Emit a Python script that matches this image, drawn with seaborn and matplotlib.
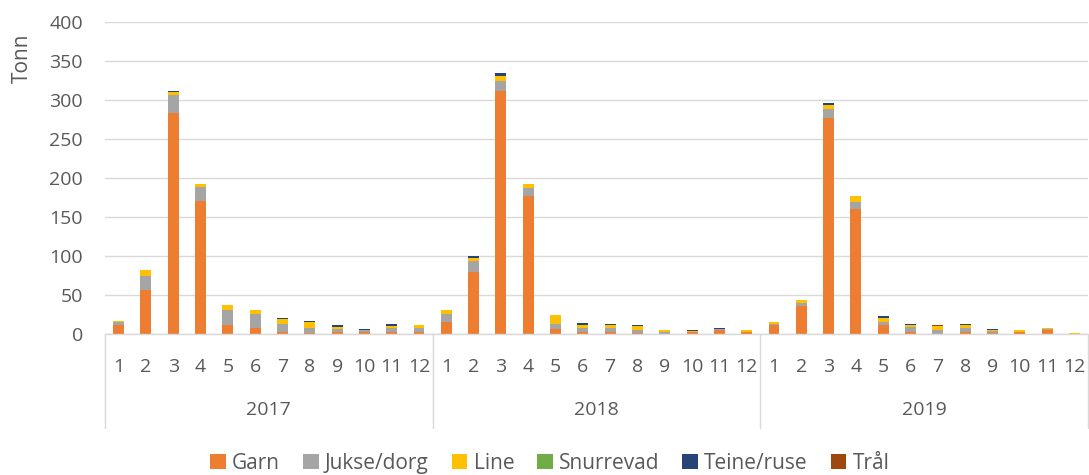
import numpy as np
import pandas as pd
import matplotlib
matplotlib.use("Agg")
import matplotlib.pyplot as plt
import matplotlib.transforms as mtransforms
from matplotlib.patches import Patch
import seaborn as sns

# -------------------------------
# Data (tonn per month)
# -------------------------------
years = ["2017", "2018", "2019"]
months = list(range(1, 13))
gears = ["Garn", "Jukse/dorg", "Line", "Snurrevad", "Teine/ruse", "Trål"]
colors = ["#ED7D31", "#A5A5A5", "#FFC000", "#70AD47", "#264478", "#9E480E"]

garn = [11, 57, 283, 171, 11.5, 8, 2, 1, 2, 2, 2, 2,
        16, 79, 311, 177.5, 6, 2, 2, 1, 0.5, 3, 5, 3,
        11, 36, 277, 160, 11.5, 2, 0.5, 2, 1.5, 3, 5, 0]
jukse = [4, 18, 24, 18, 19.5, 17.5, 11, 7, 4, 2.5, 6, 6,
         10, 14, 14, 9.5, 7, 6, 6, 4, 2.5, 0, 1.5, 0,
         2, 4, 11, 9, 4.5, 6.5, 4.5, 6, 2, 0, 1.5, 0]
line = [1.5, 7, 3, 3.5, 6.5, 5, 6, 7, 3.5, 0, 2.5, 3,
        5, 5, 6, 5.5, 12, 3.5, 3, 5, 2, 0.5, 0, 2,
        3, 4, 6, 8.5, 5, 2.5, 5, 3, 1.5, 2, 1.3, 1.7]
snurrevad = [0] * 36
teine = [0, 0, 2, 0, 0, 0, 2, 1.5, 2.5, 2, 2.5, 0,
         0, 2.5, 3, 0, 0, 2, 2, 2, 0, 1.5, 1.5, 0,
         0, 0, 2, 0, 2.5, 2, 0, 2, 1.5, 0, 0, 0]
tral = [0] * 36
tral[30] = 2
tral[26] = 0.5

series = [garn, jukse, line, snurrevad, teine, tral]

# long table
rows = []
for y in years:
    for m in months:
        rows.append({"key": f"{y}-{m}", "year": y, "month": m})
df = pd.DataFrame(rows)
for g, vals in zip(gears, series):
    df[g] = vals
order = list(df["key"])

# -------------------------------
# Style
# -------------------------------
sns.set_theme(style="white")
plt.rcParams["font.family"] = ["Open Sans", "DejaVu Sans"]
txt = "#595959"
fs = 14

fig = plt.figure(figsize=(10.89, 4.75), dpi=100)
ax = fig.add_axes([105 / 1089, 141 / 475, 983 / 1089, 312 / 475])

bottom = np.zeros(len(df))
for g, c in zip(gears, colors):
    sns.barplot(data=df, x="key", y=g, order=order, color=c, width=0.4,
                bottom=bottom, linewidth=0, ax=ax, saturation=1)
    bottom = bottom + df[g].values

ax.set_xlim(-0.5, len(df) - 0.5)
ax.set_ylim(0, 400)
ax.set_yticks(range(0, 401, 50))
ax.yaxis.grid(True, color="#D9D9D9", linewidth=1)
ax.set_axisbelow(True)
for s in ["top", "right", "left"]:
    ax.spines[s].set_visible(False)
ax.spines["bottom"].set_color("#D9D9D9")
ax.spines["bottom"].set_linewidth(1)

ax.set_xticks(range(len(df)))
ax.set_xticklabels([str(m) for m in df["month"]], fontsize=fs, color=txt)
ax.tick_params(axis="x", length=0, pad=17)
ax.tick_params(axis="y", length=0, pad=16, labelsize=fs, labelcolor=txt)
ax.set_xlabel("")
ax.set_ylabel("Tonn", fontsize=fs + 1, color=txt)
ax.yaxis.set_label_coords(-0.073, 0.885)

# multi-level category axis: year separators and labels
trans = mtransforms.blended_transform_factory(ax.transData, ax.transAxes)
for b in [-0.5, 11.5, 23.5, 35.5]:
    ax.plot([b, b], [0, -0.30], transform=trans, color="#D9D9D9", lw=1, clip_on=False)
for yi, y in enumerate(years):
    ax.text(yi * 12 + 5.5, -0.245, y, transform=trans, ha="center", va="center",
            fontsize=fs, color=txt)

handles = [Patch(facecolor=c, edgecolor="none", label=g) for g, c in zip(gears, colors)]
fig.legend(handles=handles, loc="center", bbox_to_anchor=(0.505, 0.025), ncol=6,
           frameon=False, fontsize=15, handlelength=0.75, handleheight=0.75,
           handletextpad=0.3, columnspacing=1.1, labelcolor=txt)

plt.savefig("out.png", dpi=100)
